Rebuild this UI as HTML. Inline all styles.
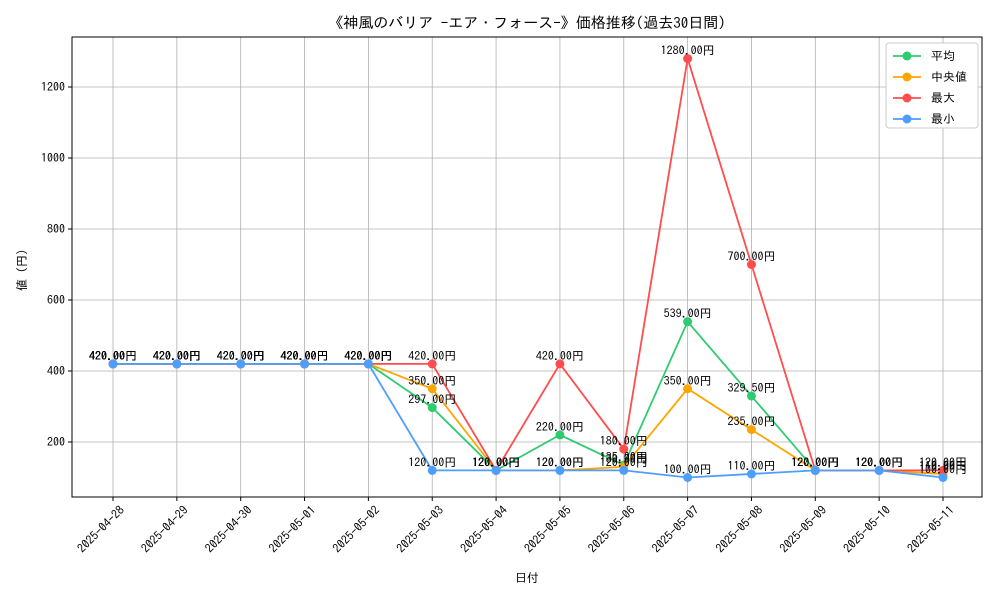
<!DOCTYPE html>
<html><head><meta charset="utf-8"><style>
body{margin:0;background:#fff;font-family:"IPAGothic","Noto Sans CJK JP",sans-serif}
text{font-family:"IPAGothic","Noto Sans CJK JP",sans-serif}
</style></head><body>
<svg id="chart" width="1000" height="600"></svg>
<script>
const categories=["2025-04-28","2025-04-29","2025-04-30","2025-05-01","2025-05-02","2025-05-03","2025-05-04","2025-05-05","2025-05-06","2025-05-07","2025-05-08","2025-05-09","2025-05-10","2025-05-11"];
const avgValues=[420,420,420,420,420,297,120,220,135,539,329.5,120,120,110];
const medianValues=[420,420,420,420,420,350,120,120,130,350,235,120,120,110];
const maxValues=[420,420,420,420,420,420,120,420,180,1280,700,120,120,120];
const minValues=[420,420,420,420,420,120,120,120,120,100,110,120,120,100];
const yTicks=[200,400,600,800,1000,1200];
const seriesNames=["平均","中央値","最大","最小"];
const colors=["#2ecc71","#ffa500","#ff4d4d","#4d9eff"];
const NS="http://www.w3.org/2000/svg";
const svg=document.getElementById('chart');
const L=72,R=982,T=37,B=497;
function x(i){return 113+i*(943-113)/(categories.length-1);}
function y(v){return 442-(v-200)*0.355;}
function el(t,a,p){const e=document.createElementNS(NS,t);for(const k in a)e.setAttribute(k,a[k]);(p||svg).appendChild(e);return e;}
const grid=el('g',{});


categories.forEach((c,i)=>{
  el('line',{x1:x(i),x2:x(i),y1:T,y2:B,stroke:'#b0b0b0','stroke-width':0.8},grid);
  el('line',{x1:x(i),x2:x(i),y1:B,y2:B+4,stroke:'#000'},grid);
  const t=el('text',{x:0,y:0,'font-size':12,'text-anchor':'end',transform:`translate(${x(i)+6},${B+8}) rotate(-45)`,dy:'0.7em'});
  t.textContent=c;
  
  
});
yTicks.forEach(v=>{
  el('line',{x1:L,x2:R,y1:y(v),y2:y(v),stroke:'#b0b0b0','stroke-width':0.8},grid);
  el('line',{x1:L-4,x2:L,y1:y(v),y2:y(v),stroke:'#000'},grid);
  const t=el('text',{x:L-7,y:y(v)+4,'font-size':12,'text-anchor':'end'});
  t.textContent=v;
  
  
});
const frame=el('rect',{x:L,y:T,width:R-L,height:B-T,fill:'none',stroke:'#000','stroke-width':1});


const series=[avgValues,medianValues,maxValues,minValues];
const snames=['series-average','series-median','series-max','series-min'];
series.forEach((vals,s)=>{
  const g=el('g',{});
  
  
  el('polyline',{points:vals.map((v,i)=>x(i)+','+y(v)).join(' '),fill:'none',stroke:colors[s],'stroke-width':1.8},g);
  vals.forEach((v,i)=>{
    const c=el('circle',{cx:x(i),cy:y(v),r:4.5,fill:colors[s]},g);
    
    
  });
});
series.forEach((vals,s)=>{
  vals.forEach((v,i)=>{
    const t=el('text',{x:x(i),y:y(v)-4,'font-size':12,'text-anchor':'middle',fill:'#000'});
    t.textContent=v.toFixed(2)+'円';
    
    
  });
});
const title=el('text',{x:527,y:28,'font-size':15,'text-anchor':'middle'});
title.textContent='《神風のバリア -エア・フォース-》価格推移(過去30日間)';


const xt=el('text',{x:527,y:582,'font-size':12,'text-anchor':'middle'});
xt.textContent='日付';


const yt=el('text',{x:0,y:0,'font-size':12,'text-anchor':'middle',transform:'translate(26,270) rotate(-90)'});
yt.textContent='値 (円)';


const lg=el('g',{});


el('rect',{x:886,y:43,width:92,height:85,fill:'#fff',stroke:'#ccc',rx:3},lg);
seriesNames.forEach((n,i)=>{
  const yy=56+i*21;
  const e=el('g',{},lg);
  
  
  el('line',{x1:893,x2:921,y1:yy,y2:yy,stroke:colors[i],'stroke-width':1.8},e);
  el('circle',{cx:907,cy:yy,r:4.5,fill:colors[i]},e);
  const t=el('text',{x:931,y:yy+4,'font-size':12},e);
  t.textContent=(i==1?' ':'')+n;
});
</script>
</body></html>
